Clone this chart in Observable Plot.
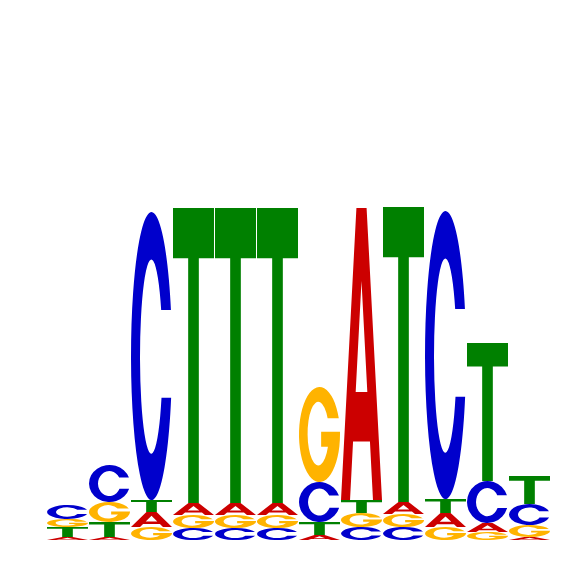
<!DOCTYPE html>
<html>
<head>
<meta charset="utf-8">
<script src="https://cdn.jsdelivr.net/npm/d3@7"></script>
<script src="https://cdn.jsdelivr.net/npm/@observablehq/plot@0.6"></script>
<style>
  html, body { margin: 0; padding: 0; background: white; }
</style>
</head>
<body>
<div id="chart"></div>
<script>
// Sequence logo: information content (bits) per base at each position
const positions = [1, 2, 3, 4, 5, 6, 7, 8, 9, 10, 11, 12];
const bases = ["A", "C", "G", "T"];
const baseColors = ["#cc0000", "#0000cc", "#ffb300", "#008000"];

// stacking order (bottom to top) at each position
const stackOrder = ["ATGC", "ATGC", "GATC", "CGAT", "CGAT", "CGAT", "ATCG", "CGTA", "CGAT", "GATC", "GACT", "AGCT"];

const bitsA = [0.012, 0.012, 0.060, 0.048, 0.048, 0.048, 0.020, 1.168, 0.048, 0.056, 0.036, 0.012];
const bitsC = [0.056, 0.148, 1.152, 0.048, 0.048, 0.048, 0.160, 0.052, 0.052, 1.152, 0.168, 0.084];
const bitsG = [0.032, 0.080, 0.052, 0.052, 0.052, 0.052, 0.380, 0.056, 0.052, 0.052, 0.032, 0.048];
const bitsT = [0.040, 0.060, 0.048, 1.180, 1.180, 1.180, 0.052, 0.052, 1.180, 0.056, 0.552, 0.112];

const bitsByBase = {A: bitsA, C: bitsC, G: bitsG, T: bitsT};

// Build the table in stacking order so stackY piles letters correctly
const letters = [];
positions.forEach((pos, i) => {
    for (const base of stackOrder[i]) {
        letters.push({pos: pos, base: base, bits: bitsByBase[base][i]});
    }
});

const plot = Plot.plot({
    width: 566,
    height: 566,
    marginTop: 40,
    marginBottom: 26,
    marginLeft: 41,
    marginRight: 10,
    x: {domain: positions, padding: 0.025, axis: null},
    y: {domain: [0, 2], axis: null},
    color: {domain: bases, range: baseColors},
    marks: [
        Plot.barY(letters, {x: "pos", y: "bits", fill: "base"})
    ]
});

document.getElementById("chart").appendChild(plot);

// Bold sans letter outlines in a unit box (y down), stretched onto each bar
const glyphs = {
    A: "M0,1 L0.376,0 L0.624,0 L1,1 L0.78,1 L0.706,0.8 L0.294,0.8 L0.22,1 Z " +
       "M0.358,0.63 L0.642,0.63 L0.5,0.25 Z",
    C: "M0.974,0.34 A0.5,0.5 0 1 0 0.979,0.645 L0.744,0.645 " +
       "A0.275,0.337 0 1 1 0.736,0.34 Z",
    G: "M0.97,0.33 A0.5,0.5 0 1 0 1,0.5 L1,0.47 L0.54,0.47 L0.54,0.63 L0.706,0.63 " +
       "A0.26,0.335 0 1 1 0.698,0.33 Z",
    T: "M0,0 L1,0 L1,0.17 L0.63,0.17 L0.63,1 L0.37,1 L0.37,0.17 L0,0.17 Z"
};

const colorToBase = {};
bases.forEach((b, i) => colorToBase[baseColors[i].toLowerCase()] = b);

// Swap each stacked rect for its letter, placed on the rect Plot computed
const svgNS = "http://www.w3.org/2000/svg";
plot.querySelectorAll('g[aria-label="bar"] rect').forEach(rect => {
    const fill = (rect.getAttribute("fill") || "").toLowerCase();
    const base = colorToBase[fill];
    if (!base) return;
    const x = +rect.getAttribute("x");
    const y = +rect.getAttribute("y");
    const w = +rect.getAttribute("width");
    const h = +rect.getAttribute("height");
    const path = document.createElementNS(svgNS, "path");
    path.setAttribute("d", glyphs[base]);
    path.setAttribute("fill", fill);
    path.setAttribute("fill-rule", "evenodd");
    path.setAttribute("transform", `translate(${x},${y}) scale(${w},${h})`);
    rect.parentNode.insertBefore(path, rect);
    rect.remove();
});
</script>
</body>
</html>
